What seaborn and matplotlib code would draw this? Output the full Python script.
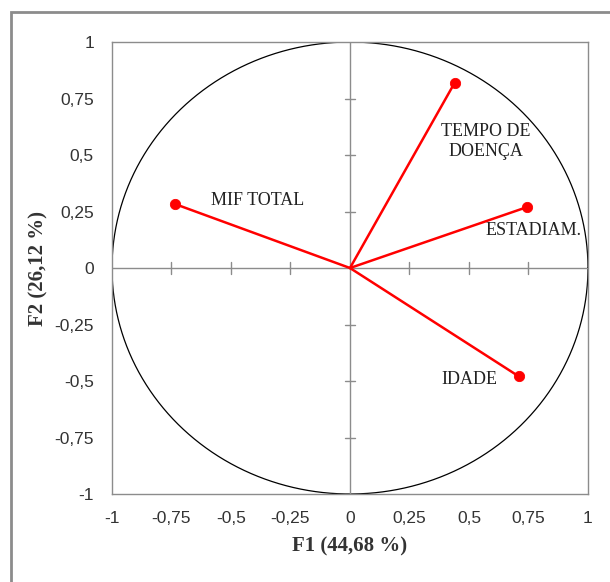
import numpy as np
import pandas as pd
import matplotlib
matplotlib.use("Agg")
import matplotlib.pyplot as plt
import seaborn as sns
from matplotlib.patches import Rectangle

# loadings on the first two factors
variables = ["TEMPO DE\nDOENÇA", "ESTADIAM.", "MIF TOTAL", "IDADE"]
f1 = [0.44, 0.745, -0.735, 0.71]
f2 = [0.82, 0.27, 0.283, -0.48]
ticks = [-1, -0.75, -0.5, -0.25, 0, 0.25, 0.5, 0.75, 1]
tick_labels = ["-1", "-0,75", "-0,5", "-0,25", "0", "0,25", "0,5", "0,75", "1"]
x_title = "F1 (44,68 %)"
y_title = "F2 (26,12 %)"

df = pd.DataFrame({"var": variables, "F1": f1, "F2": f2})

sns.set_style("white")
plt.rcParams["font.family"] = ["Liberation Sans", "DejaVu Sans"]

fig = plt.figure(figsize=(6.1, 5.82), dpi=100)
ax = fig.add_axes([0.1836, 0.1512, 0.7803, 0.7766])

# outer frame (only left/top visible in the original)
fig.patches.append(Rectangle((11 / 610, -0.1), 1.2, 1 - 12 / 582 + 0.1,
                             transform=fig.transFigure, fill=False,
                             edgecolor="#8c8c8c", linewidth=2))

# unit circle
t = np.linspace(0, 2 * np.pi, 400)
ax.plot(np.cos(t), np.sin(t), color="black", linewidth=0.9)

# axes through origin with cross ticks
ax.axhline(0, color="#8c8c8c", linewidth=1)
ax.axvline(0, color="#8c8c8c", linewidth=1)
for v in ticks:
    if v in (-1, 0, 1):
        continue
    ax.plot([v, v], [-0.025, 0.025], color="#8c8c8c", linewidth=1)
    ax.plot([-0.02, 0.02], [v, v], color="#8c8c8c", linewidth=1)

# vectors
for _, r in df.iterrows():
    ax.plot([0, r["F1"]], [0, r["F2"]], color="#ff0000", linewidth=1.8)
sns.scatterplot(data=df, x="F1", y="F2", color="#ff0000", s=55,
                edgecolor="#ff0000", ax=ax, zorder=5)

label_pos = {"TEMPO DE\nDOENÇA": (0.57, 0.56), "ESTADIAM.": (0.77, 0.165),
             "MIF TOTAL": (-0.39, 0.30), "IDADE": (0.50, -0.495)}
for name in variables:
    lx, ly = label_pos[name]
    ax.text(lx, ly, name, ha="center", va="center", fontsize=13,
            family=["Liberation Serif"], color="#222222", linespacing=1.3)

ax.set_xlim(-1, 1)
ax.set_ylim(-1, 1)
ax.set_xticks(ticks)
ax.set_yticks(ticks)
ax.set_xticklabels(tick_labels, fontsize=12.5, color="#333333")
ax.set_yticklabels(tick_labels, fontsize=12.5, color="#333333")
ax.tick_params(axis="x", length=0, pad=12)
ax.tick_params(axis="y", length=0, pad=13)
ax.set_xlabel(x_title, fontsize=15, fontweight="bold", family=["Liberation Serif"],
              color="#333333", labelpad=8)
ax.set_ylabel(y_title, fontsize=15, fontweight="bold", family=["Liberation Serif"],
              color="#333333", labelpad=4)
for s in ax.spines.values():
    s.set_color("#8c8c8c")
    s.set_linewidth(1)

fig.savefig("out.png", dpi=100)
